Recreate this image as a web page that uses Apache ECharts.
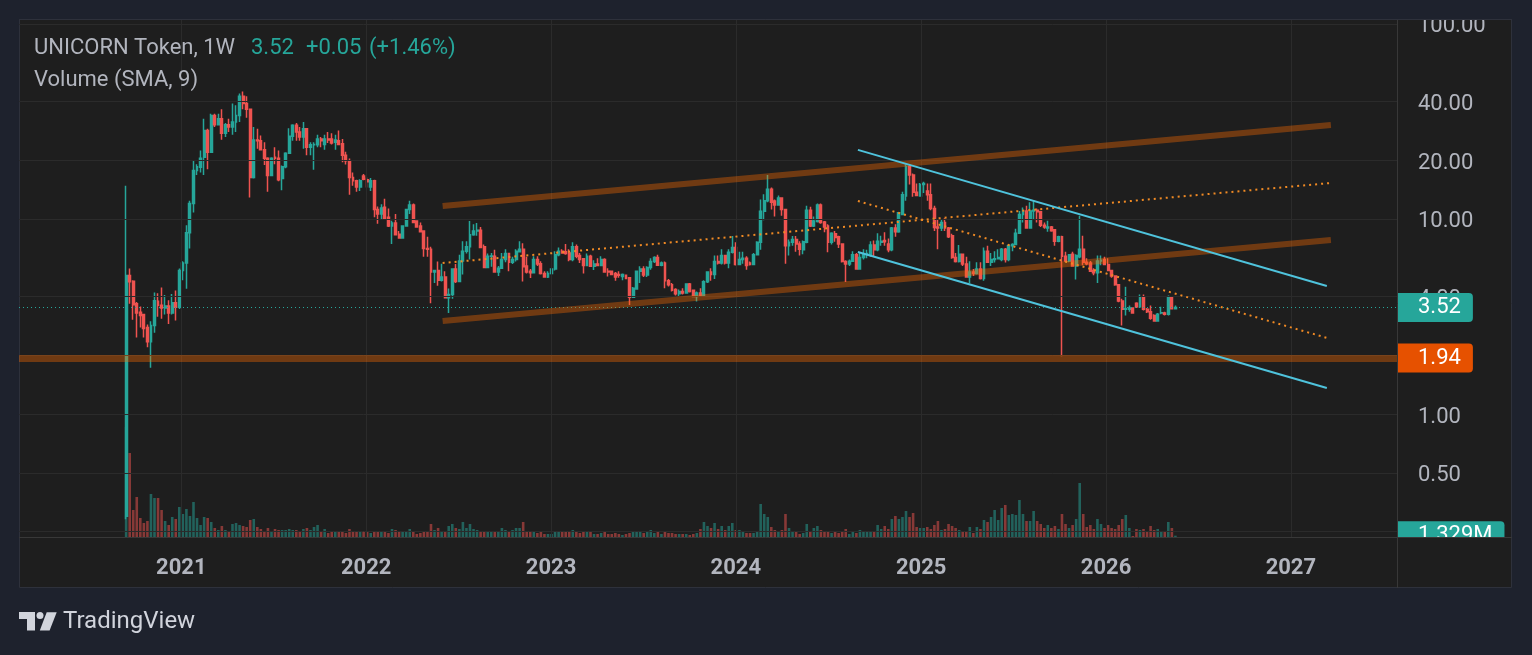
<!DOCTYPE html>
<html>
<head>
<meta charset="utf-8">
<script src="https://cdn.jsdelivr.net/npm/echarts@6/dist/echarts.min.js"></script>
<style>
html,body{margin:0;padding:0;background:#1e222d;}
#chart{width:1532px;height:655px;}
</style>
</head>
<body>
<div id="chart"></div>
<script>
// ---------- DATA ----------
const firstWeek = '2020-09-14';           // weekly candles, Monday start
// [open, close, low, high]
const candles = [
[0.30,5.14,0.29,14.8],[5.14,4.77,3.68,5.57],[4.8,3.64,3.05,4.85],[3.68,3.3,2.47,3.76],[3.33,3.2,2.78,3.56],
[3.24,2.75,2.47,3.24],[2.78,2.35,2.2,2.88],[2.35,2.85,1.73,2.99],[2.85,3.81,2.61,4.2],[3.79,3.61,3.16,4.17],
[3.61,3.5,3.08,4.46],[3.5,3.58,3.24,4.08],[3.58,3.3,2.9,3.84],[3.3,3.72,3.24,4.13],[3.72,3.53,3.02,4.3],
[3.53,5.45,3.46,5.57],[5.45,5.95,4.85,6.07],[5.95,8.5,4.39,9.28],[8.5,12.0,7.06,12.4],[12.0,17.7,10.8,19.9],
[17.7,18.5,16.8,19.1],[18.4,20.5,17.3,22.4],[20.7,28.4,16.8,32.6],[28.4,22.0,18.0,29.0],[22.0,33.9,22.0,34.6],
[33.9,30.4,29.6,34.6],[30.4,32.6,30.2,34.6],[32.6,27.5,25.5,36.5],[27.5,30.4,26.3,31.0],[30.4,29.6,27.9,32.6],
[29.6,31.4,27.0,39.0],[31.4,33.9,27.9,38.2],[33.9,42.5,31.4,43.9],[42.5,39.0,36.5,45.0],[39.0,36.5,33.0,42.5],
[36.5,16.3,12.9,36.5],[16.3,25.4,16.1,29.6],[25.4,25.2,22.9,29.0],[25.2,22.6,22.4,26.8],[22.6,20.5,18.9,24.7],
[20.5,16.7,13.8,20.7],[16.7,20.5,16.7,20.7],[20.7,20.5,19.1,23.3],[20.5,15.9,15.6,22.4],[16.1,18.5,14.05,18.8],
[18.5,21.7,18.2,22.0],[21.7,26.5,21.5,29.2],[26.5,30.2,25.2,30.6],[30.2,27.9,25.2,31.0],[27.9,26.3,25.2,29.6],
[26.3,29.0,22.9,31.4],[29.0,23.3,21.2,29.2],[23.3,24.0,21.2,24.7],[24.0,24.1,17.9,24.7],[24.0,25.7,23.3,27.0],
[25.7,25.2,23.3,26.3],[24.1,25.7,22.6,27.0],[25.7,25.4,24.5,27.9],[25.7,24.5,24.1,27.5],[24.7,25.4,22.6,27.0],
[25.2,24.1,24.0,28.4],[24.3,21.2,19.5,25.7],[21.2,19.9,19.0,22.1],[19.9,16.3,13.3,20.4],[16.3,15.7,14.8,17.3],
[15.7,14.6,13.8,15.9],[14.6,15.7,13.9,16.0],[16.6,16.0,15.8,17.0],[15.9,15.5,14.5,16.3],[14.6,15.7,13.9,16.2],
[15.7,11.2,10.2,15.9],[11.2,10.6,9.45,11.6],[10.6,11.4,9.9,11.9],[11.5,10.1,9.9,12.7],[10.2,9.2,9.1,11.3],
[9.2,9.55,7.45,9.8],[9.55,8.3,8.3,10.6],[8.35,8.0,8.0,8.67],[8.0,9.2,8.0,9.3],[9.2,11.2,9.15,11.2],
[11.2,11.8,10.6,12.4],[11.8,9.6,9.55,12.0],[9.76,9.1,9.05,9.8],[9.2,8.6,8.6,9.6],[8.67,7.05,6.4,8.75],
[7.05,7.0,6.4,8.1],[7.0,5.35,3.7,7.2],[5.35,5.45,4.7,5.45],[5.45,4.85,4.55,6.05],[4.85,5.05,4.79,5.9],
[5.05,3.95,3.95,5.4],[3.95,4.1,3.3,4.4],[4.1,5.55,3.9,5.6],[5.55,4.79,4.7,5.88],[4.79,6.1,4.79,6.55],
[6.1,6.84,5.2,7.7],[6.84,7.2,6.65,7.7],[7.2,8.3,6.2,9.76],[8.3,8.67,8.2,9.4],[8.67,8.75,8.2,9.55],
[8.75,7.15,7.15,9.1],[7.2,5.65,5.6,7.4],[5.65,6.45,5.6,6.65],[6.45,6.47,5.7,6.7],[6.45,5.35,5.3,6.95],
[5.35,5.6,5.1,5.75],[5.6,6.2,5.55,6.7],[6.2,6.65,6.0,7.0],[6.65,6.0,5.4,6.7],[6.0,6.2,5.88,6.4],
[6.2,6.84,6.05,7.0],[6.8,7.0,6.8,7.7],[7.0,5.7,4.79,7.5],[5.75,5.35,5.25,6.4],[5.4,5.3,4.98,5.55],
[5.3,6.2,5.3,6.45],[6.2,5.88,5.75,6.45],[5.9,5.25,5.2,6.08],[5.25,5.05,5.0,5.4],[5.05,5.25,4.98,5.4],
[5.25,5.55,5.2,5.6],[5.55,6.55,5.45,6.84],[6.55,6.84,6.45,7.15],[6.84,6.7,6.65,7.0],[6.8,6.65,6.55,7.45],
[6.7,6.2,6.08,7.0],[6.2,7.2,6.08,7.6],[7.2,6.45,6.3,7.4],[6.5,6.2,5.95,6.7],[6.25,5.77,5.25,6.3],
[5.77,6.45,5.77,6.65],[6.45,5.72,5.68,6.55],[5.72,5.88,5.48,6.15],[5.88,5.77,5.77,6.3],[5.77,6.2,5.72,6.45],
[6.2,5.35,5.3,6.3],[5.4,5.35,5.08,5.6],[5.4,5.2,5.15,5.45],[5.25,5.05,4.82,5.35],[5.2,5.15,5.0,5.4],
[5.08,5.2,4.85,5.25],[5.15,4.96,4.92,5.2],[5.0,3.97,3.63,5.0],[3.97,4.42,3.94,4.48],[4.38,5.4,4.35,5.45],
[5.4,5.55,4.7,5.72],[5.55,5.17,5.05,5.72],[5.17,5.65,5.05,5.72],[5.65,6.05,5.5,6.3],[6.05,6.35,5.95,6.45],
[6.35,5.8,5.77,6.55],[5.8,5.95,5.72,6.05],[5.95,4.82,4.42,6.05],[4.82,4.6,4.51,4.92],[4.6,4.32,4.25,4.7],
[4.35,4.14,4.05,4.42],[4.14,4.25,4.01,4.35],[4.25,4.18,4.1,4.42],[4.18,4.65,4.18,4.65],[4.65,4.25,4.2,4.7],
[4.32,4.01,3.98,4.35],[4.01,4.18,3.78,4.25],[4.18,4.05,4.01,4.42],[4.05,4.77,3.98,4.85],[4.77,5.35,4.7,5.4],
[5.35,5.2,4.82,5.6],[5.2,6.05,4.92,6.5],[6.05,5.95,5.85,6.5],[5.95,6.5,5.85,7.0],[6.5,5.95,5.85,6.55],
[5.95,6.75,5.6,7.0],[6.75,7.15,6.65,8.17],[7.15,5.85,5.77,7.6],[5.85,6.2,5.85,6.8],[6.2,6.3,5.9,6.8],
[6.3,5.77,5.5,6.45],[5.95,5.85,5.77,6.05],[5.85,6.55,5.8,6.7],[6.55,7.6,6.55,7.7],[7.6,10.95,6.95,12.6],
[10.95,12.4,9.85,13.4],[12.4,14.2,12.2,16.8],[14.2,12.2,11.2,14.5],[12.35,11.8,10.3,12.6],[11.8,12.8,11.7,13.2],
[12.8,11.2,10.4,12.9],[11.2,7.3,5.9,11.2],[7.3,7.6,6.5,7.85],[7.6,7.85,7.3,8.17],[7.85,7.45,6.8,8.17],
[7.45,7.0,6.5,7.7],[6.95,7.65,6.6,7.75],[7.6,11.1,7.5,11.7],[11.1,9.2,9.1,11.55],[9.2,9.76,9.1,10.3],
[9.7,11.8,9.6,12.0],[11.8,9.6,9.45,12.0],[9.65,9.1,8.55,9.76],[9.2,7.6,6.75,9.4],[7.6,8.45,7.4,8.55],
[8.4,8.05,7.65,8.67],[8.1,7.45,7.1,8.2],[7.45,6.05,5.98,7.5],[6.05,5.88,4.75,6.15],[5.88,6.08,5.75,6.2],
[6.08,6.55,6.08,6.84],[6.55,5.55,5.5,6.7],[5.55,6.35,5.5,6.7],[6.35,6.6,6.2,7.0],[6.55,6.65,6.3,6.95],
[6.6,7.35,6.4,7.7],[7.35,6.95,6.4,7.75],[6.95,7.7,6.84,8.45],[7.6,7.7,7.3,8.2],[7.75,7.65,7.3,8.55],
[7.45,6.95,6.75,7.95],[6.95,9.0,6.84,9.1],[9.0,8.6,8.1,9.4],[8.6,10.75,8.5,10.85],[10.55,13.3,10.45,13.8],
[13.1,18.6,12.4,19.1],[18.6,16.8,15.0,19.0],[16.8,13.7,13.0,17.1],[13.7,13.2,13.2,15.2],[13.1,15.0,13.0,15.3],
[15.0,15.2,13.6,15.5],[13.9,13.3,12.4,15.2],[13.3,11.3,11.1,15.2],[11.3,9.05,8.67,11.7],[9.1,9.0,7.0,9.9],
[9.0,9.6,8.67,9.9],[9.6,9.0,8.67,10.1],[9.0,8.1,8.0,9.1],[8.2,6.35,6.25,8.4],[6.35,6.05,5.98,6.7],
[6.05,6.6,5.98,7.35],[6.6,5.88,5.75,6.65],[5.88,5.05,5.0,6.4],[5.05,5.35,4.68,6.08],[5.35,5.25,5.1,5.55],
[5.25,5.55,5.2,6.0],[5.55,4.95,4.9,6.0],[4.95,6.84,4.82,7.15],[6.84,6.0,5.98,7.3],[6.0,6.2,5.75,6.7],
[6.2,6.25,5.98,6.84],[6.25,6.35,6.2,7.0],[6.2,7.0,6.08,7.1],[7.0,6.2,5.98,7.1],[6.2,7.3,6.08,7.45],
[7.3,7.4,6.84,7.5],[7.4,8.45,7.35,8.9],[8.45,10.55,8.4,11.0],[10.55,11.0,9.6,11.45],[11.0,9.0,9.0,11.7],
[9.0,11.0,9.0,12.2],[11.0,11.1,10.0,12.5],[11.1,10.9,9.6,11.3],[10.9,9.3,9.1,10.9],[9.3,9.1,8.9,9.6],
[9.0,9.1,8.6,9.8],[9.1,8.7,8.6,9.2],[8.8,7.7,7.3,8.8],[7.7,8.1,7.6,8.2],[8.1,6.45,1.98,8.2],
[6.45,6.1,6.0,6.8],[6.1,6.55,6.0,6.6],[6.6,5.75,5.7,6.8],[5.75,6.5,4.9,6.6],[6.4,7.0,6.3,10.4],
[7.0,6.0,5.8,8.2],[6.0,5.9,5.8,6.3],[5.95,5.4,5.35,6.1],[5.45,5.3,5.15,5.6],[5.3,6.1,4.7,6.5],
[6.1,6.15,5.8,6.5],[6.2,5.85,5.8,6.4],[5.85,5.45,5.4,6.3],[5.45,5.1,5.0,5.5],[5.1,4.6,4.55,5.15],
[4.6,3.8,3.75,4.6],[3.8,3.45,2.85,3.9],[3.45,3.47,3.2,4.5],[3.45,3.5,3.35,3.6],[3.5,3.3,3.3,3.5],
[3.7,3.55,3.5,3.75],[3.55,4.0,3.5,4.1],[4.0,3.45,3.4,4.1],[3.45,3.35,3.3,3.5],[3.35,3.1,3.05,3.6],
[3.2,3.0,3.0,3.25],[3.0,3.25,3.0,3.3],[3.3,3.31,3.25,3.55],[3.3,3.25,3.2,3.35],[3.25,3.95,3.2,4.05],
[3.95,3.47,3.45,4.0],[3.47,3.52,3.45,3.6]
];
// weekly volume, millions
const volumes = [
110,84,27,40,19,14,16,43,39,39,27,16,12,20,18,30,23,28,21,35,
19,12,20,19,15,9,7,11,7,6,13,14,12,11,10,17,18,10,8,5,
9,6,8,7,7,7,8,7,7,5,8,9,7,10,12,5,8,4,6,5,
6,5,4,8,5,5,6,6,6,4,6,5,5,5,4,8,7,5,6,6,
8,5,3,4,5,6,13,7,9,6,5,11,13,9,8,15,9,13,8,7,
6,6,5,5,5,5,9,7,6,7,9,9,15,6,6,6,4,5,3,3,
3,5,6,5,6,5,7,5,4,5,6,5,3,3,4,5,3,3,4,3,
2,3,4,5,5,5,4,5,7,4,5,3,5,4,4,3,3,3,3,2,
3,4,8,15,11,9,14,8,11,7,11,14,7,7,5,4,4,4,6,33,
23,20,10,7,6,7,23,9,5,5,3,4,13,6,9,11,7,6,6,4,
6,4,5,8,3,5,4,7,5,5,5,5,12,8,11,8,18,21,18,20,
26,20,24,10,9,9,10,8,12,16,7,8,13,11,9,7,6,6,10,4,
10,8,17,15,20,27,17,29,32,22,23,22,37,23,16,16,26,16,13,9,
12,9,11,8,23,13,9,12,18,54,23,10,12,8,18,13,9,12,9,8,
12,18,22,9,1,8,7,8,6,11,7,8,6,5,15,9,1.329
];
const priceTicks = [100, 40, 20, 10, 4, 2, 1, 0.5, 0.25];
const yearTicks = ['2021','2022','2023','2024','2025','2026','2027'];
const lastPrice = 3.52;
const supportLevel = 1.94;
const lastVolume = 1.329;
// drawn trend lines: [date, price]
const channelUpper = [['2022-06-01', 11.66], ['2027-03-21', 30.3]];
const channelMid   = [['2022-06-01', 5.95],  ['2027-03-21', 15.29]];
const channelLower = [['2022-06-01', 3.0],   ['2027-03-21', 7.81]];
const fallUpper    = [['2024-08-29', 22.6],  ['2027-03-13', 4.54]];
const fallMid      = [['2024-08-29', 12.36], ['2027-03-13', 2.46]];
const fallLower    = [['2024-08-29', 6.77],  ['2027-03-13', 1.362]];

// ---------- BUILD ----------
function weekDate(i) {
  const p = firstWeek.split('-').map(Number);
  const d = new Date(Date.UTC(p[0], p[1] - 1, p[2] + 7 * i));
  return d.toISOString().slice(0, 10);
}
const UP = '#26a69a', DOWN = '#ef5350';
const FONT = 'Roboto, "Noto Sans", sans-serif';
const dates = candles.map((c, i) => weekDate(i));
const candleData = candles.map((c, i) => [dates[i], c[0], c[1], c[2], c[3]]);
const volData = volumes.map((v, i) => ({
  value: [dates[i], v],
  itemStyle: { color: candles[i][1] >= candles[i][0] ? 'rgba(38,166,154,0.5)' : 'rgba(239,83,80,0.5)' }
}));
const chBand = 'rgba(255,109,0,0.37)';
const tagLabel = (bg) => ({
  show: true, position: 'end', distance: 1, formatter: '{b}', color: '#ffffff',
  fontSize: 22, fontFamily: FONT, backgroundColor: bg,
  padding: [4, 12, 3, 20], borderRadius: [0, 4, 4, 0], lineHeight: 22
});
function trend(data, style) {
  return { type: 'line', data: data, symbol: 'none', silent: true, z: 5,
           lineStyle: style, xAxisIndex: 0, yAxisIndex: 0, clip: true };
}

const chart = echarts.init(document.getElementById('chart'), null, { renderer: 'canvas' });
chart.setOption({
  animation: false,
  backgroundColor: '#1e222d',
  textStyle: { fontFamily: FONT },
  grid: { left: 19, right: 135, top: 19, bottom: 118, containLabel: false },
  xAxis: {
    type: 'time', min: '2020-02-18', max: '2027-07-27',
    axisLine: { show: false }, axisTick: { show: false }, axisLabel: { show: false }, splitLine: { show: false }
  },
  yAxis: [
    { type: 'log', logBase: 10, min: 0.2349, max: 105.8, position: 'right',
      axisLine: { show: false }, axisTick: { show: false }, axisLabel: { show: false }, splitLine: { show: false } },
    { type: 'value', min: 0, max: 518, show: false,
      axisLine: { show: false }, axisTick: { show: false }, axisLabel: { show: false }, splitLine: { show: false } }
  ],
  series: [
    { // horizontal price grid + right price scale labels
      type: 'line', data: [[dates[0], 1]], symbol: 'none', silent: true, z: 1,
      lineStyle: { opacity: 0 }, yAxisIndex: 0,
      markLine: {
        silent: true, symbol: ['none', 'none'], animation: false,
        lineStyle: { color: '#2b2b2b', width: 1, type: 'solid' },
        label: { show: true, position: 'end', distance: 21, formatter: '{v|{b}}',
                 color: '#b2b5be', fontSize: 22, fontFamily: FONT,
                 rich: { v: { color: '#b2b5be', fontSize: 22, fontFamily: FONT, padding: [6, 0, 0, 0] } } },
        data: priceTicks.map(v => ({ yAxis: v, name: v.toFixed(2) }))
      }
    },
    { // vertical year grid + time scale labels
      type: 'line', data: [[dates[0], 1]], symbol: 'none', silent: true, z: 1,
      lineStyle: { opacity: 0 }, yAxisIndex: 0,
      markLine: {
        silent: true, symbol: ['none', 'none'], animation: false,
        lineStyle: { color: '#2b2b2b', width: 1, type: 'solid' },
        label: { show: true, position: 'start', distance: 20, formatter: '{b}',
                 color: '#b2b5be', fontSize: 22, fontWeight: 'bold', fontFamily: FONT },
        data: yearTicks.map(y => ({ xAxis: y + '-01-01', name: y }))
      }
    },
    { // volume
      type: 'bar', name: 'Volume', data: volData, xAxisIndex: 0, yAxisIndex: 1,
      barWidth: 2.6, z: 2, silent: true
    },
    { // volume last-value tag on the volume scale
      type: 'line', data: [[dates[0], 0]], symbol: 'none', silent: true, z: 6,
      lineStyle: { opacity: 0 }, xAxisIndex: 0, yAxisIndex: 1,
      markLine: {
        silent: true, symbol: ['none', 'none'], animation: false,
        lineStyle: { color: 'rgba(0,0,0,0)', width: 1 },
        label: tagLabel(UP),
        data: [{ yAxis: lastVolume, name: lastVolume.toFixed(3) + 'M' }]
      }
    },
    { // price
      type: 'candlestick', name: 'UNICORN Token', data: candleData,
      encode: { x: 0, y: [1, 2, 3, 4] }, xAxisIndex: 0, yAxisIndex: 0,
      barWidth: 2.4, z: 3, silent: true,
      itemStyle: { color: UP, color0: DOWN, borderColor: UP, borderColor0: DOWN, borderWidth: 1.5 }
    },
    trend(channelUpper, { color: chBand, width: 6 }),
    trend(channelLower, { color: chBand, width: 6 }),
    trend(channelMid, { color: '#f08a24', width: 2, type: [2, 4] }),
    trend(fallMid, { color: '#f08a24', width: 2, type: [2, 4] }),
    trend(fallUpper, { color: '#4fc3dc', width: 2 }),
    trend(fallLower, { color: '#4fc3dc', width: 2 }),
    { // support level + last price tags
      type: 'line', data: [[dates[0], 1]], symbol: 'none', silent: true, z: 6,
      lineStyle: { opacity: 0 }, yAxisIndex: 0,
      markLine: {
        silent: true, symbol: ['none', 'none'], animation: false,
        data: [
          { yAxis: supportLevel, name: supportLevel.toFixed(2),
            lineStyle: { color: chBand, width: 7, type: 'solid' },
            label: tagLabel('#e65100') },
          { yAxis: lastPrice, name: lastPrice.toFixed(2),
            lineStyle: { color: UP, width: 1, type: [1, 3] },
            label: tagLabel(UP) }
        ]
      }
    }
  ],
  graphic: [
    { type: 'rect', silent: true, z: -100,
      shape: { x: 19.5, y: 19.5, width: 1492, height: 568 },
      style: { fill: '#1e1e1e', stroke: '#2e313b', lineWidth: 1 } },
    { type: 'rect', silent: true, z: 200, shape: { x: 0, y: 0, width: 1532, height: 19 }, style: { fill: '#1e222d' } },
    { type: 'rect', silent: true, z: 150, shape: { x: 1398, y: 538, width: 113, height: 49 }, style: { fill: '#1e1e1e' } },
    { type: 'line', silent: true, z: 160, shape: { x1: 1397.5, y1: 19, x2: 1397.5, y2: 588 },
      style: { stroke: '#383838', lineWidth: 1 } },
    { type: 'line', silent: true, z: 160, shape: { x1: 19, y1: 537.5, x2: 1512, y2: 537.5 },
      style: { stroke: '#383838', lineWidth: 1 } },
    { type: 'line', silent: true, z: 210, shape: { x1: 19, y1: 19.5, x2: 1512, y2: 19.5 },
      style: { stroke: '#2e313b', lineWidth: 1 } },
    { type: 'text', silent: true, z: 170, style: { text: 'UNICORN Token, 1W', x: 34, y: 48, fill: '#b2b5be',
      fontSize: 22, fontFamily: FONT, verticalAlign: 'middle' } },
    { type: 'text', silent: true, z: 170, style: { text: '3.52', x: 251, y: 48, fill: UP,
      fontSize: 22, fontFamily: FONT, verticalAlign: 'middle' } },
    { type: 'text', silent: true, z: 170, style: { text: '+0.05', x: 306, y: 48, fill: UP,
      fontSize: 22, fontFamily: FONT, verticalAlign: 'middle' } },
    { type: 'text', silent: true, z: 170, style: { text: '(+1.46%)', x: 369, y: 48, fill: UP,
      fontSize: 22, fontFamily: FONT, verticalAlign: 'middle' } },
    { type: 'text', silent: true, z: 170, style: { text: 'Volume (SMA, 9)', x: 34, y: 80, fill: '#b2b5be',
      fontSize: 22, fontFamily: FONT, verticalAlign: 'middle' } },
    // TradingView logo
    { type: 'rect', silent: true, z: 170, shape: { x: 19, y: 612, width: 16, height: 7 }, style: { fill: '#d1d4dc' } },
    { type: 'rect', silent: true, z: 170, shape: { x: 27, y: 612, width: 8, height: 18.5 }, style: { fill: '#d1d4dc' } },
    { type: 'circle', silent: true, z: 170, shape: { cx: 40, cy: 615.6, r: 3.5 }, style: { fill: '#d1d4dc' } },
    { type: 'polygon', silent: true, z: 170,
      shape: { points: [[46.7, 612.2], [56.7, 612.2], [49.6, 630.5], [39.8, 630.5]] }, style: { fill: '#d1d4dc' } },
    { type: 'text', silent: true, z: 170, style: { text: 'TradingView', x: 63, y: 622, fill: '#d1d4dc',
      fontSize: 24, fontFamily: FONT, verticalAlign: 'middle' } }
  ]
});
</script>
</body>
</html>
